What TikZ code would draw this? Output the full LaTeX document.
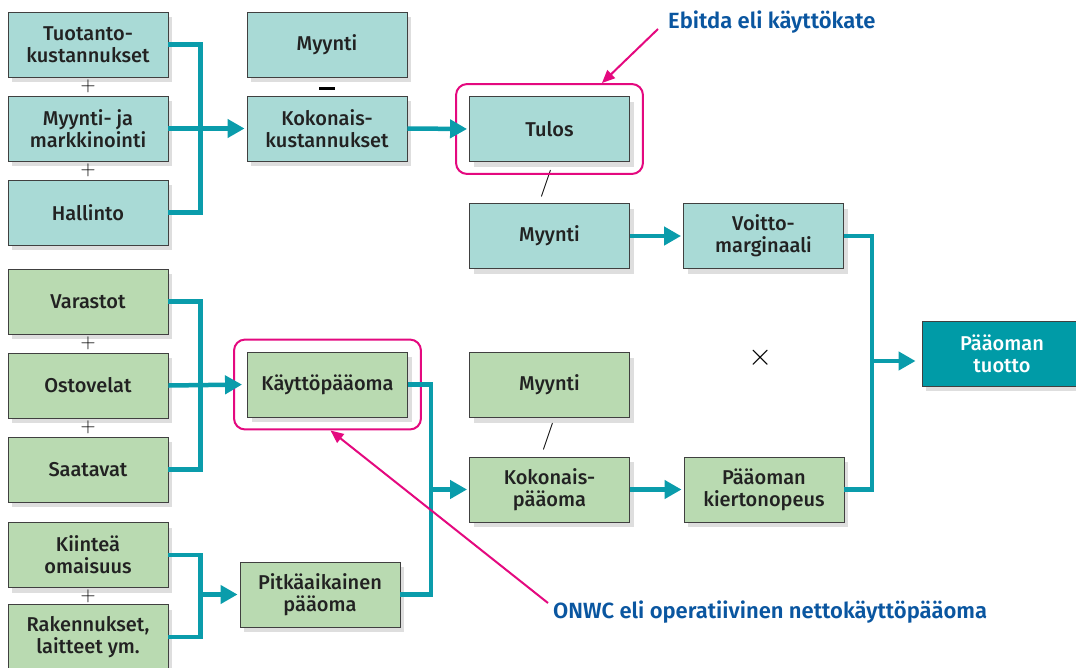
\documentclass[tikz,border=0pt]{standalone}
\usepackage{fontspec}
\setmainfont{Fira Sans}[UprightFont={* Medium},BoldFont={* SemiBold}]
\usetikzlibrary{arrows.meta,shadows,fit,calc}
\definecolor{tealbox}{HTML}{A9DAD6}
\definecolor{greenbox}{HTML}{B9DAB1}
\definecolor{conncol}{HTML}{0A9CAB}
\definecolor{tuottocol}{HTML}{009BA7}
\definecolor{pinkcol}{HTML}{E4097F}
\definecolor{bluetext}{HTML}{0A56A0}
\definecolor{textcol}{HTML}{222222}
\tikzset{
  box/.style={draw=black!75, line width=0.9pt, minimum width=160pt, minimum height=65pt,
    inner sep=0pt, align=center, text=textcol,
    font=\fontsize{20}{22}\selectfont,
    drop shadow={shadow xshift=4pt, shadow yshift=-5pt, fill=black, opacity=0.13}},
  tbox/.style={box, fill=tealbox},
  gbox/.style={box, fill=greenbox},
  conn/.style={draw=conncol, line width=4.5pt},
  arr/.style={conn, -{Triangle[length=17pt,width=18pt]}, shorten >=2pt},
  pinkframe/.style={draw=pinkcol, line width=2pt, rounded corners=11pt, inner xsep=13pt, inner ysep=12pt},
  pinkarr/.style={draw=pinkcol, line width=2pt, -{Triangle[length=13pt,width=11pt]}},
  op/.style={inner sep=0pt, text=black, font=\fontsize{22}{22}\selectfont},
  lab/.style={inner sep=0pt, text=bluetext, font=\fontsize{22}{24}\selectfont\bfseries}
}
\begin{document}
\begin{tikzpicture}[x=1pt,y=-1pt]
\useasboundingbox (0,0) rectangle (1076,667);
% top section (teal)
\node[tbox] (tuot) at (88,44.5) {Tuotanto-\\kustannukset};
\node[tbox] (mj) at (88,128.5) {Myynti- ja\\markkinointi};
\node[tbox] (hal) at (88,212.5) {Hallinto};
\node[tbox] (my1) at (327,44.5) {Myynti};
\node[tbox] (kok) at (327,128.5) {Kokonais-\\kustannukset};
\node[tbox] (tulos) at (549.5,129) {Tulos};
\node[tbox] (my2) at (549.5,236) {Myynti};
\node[tbox] (voit) at (763.5,236) {Voitto-\\marginaali};
% bottom section (green)
\node[gbox] (var) at (88,301.5) {Varastot};
\node[gbox] (ost) at (88,385.5) {Ostovelat};
\node[gbox] (saa) at (88,469.5) {Saatavat};
\node[gbox] (kii) at (88,555) {Kiinteä\\omaisuus};
\node[gbox] (rak) at (88,637) {Rakennukset,\\laitteet ym.};
\node[gbox] (kay) at (327.5,384.5) {Käyttöpääoma};
\node[gbox] (pit) at (320,594.5) {Pitkäaikainen\\pääoma};
\node[gbox] (my3) at (549.5,385) {Myynti};
\node[gbox] (kokp) at (549.5,489.5) {Kokonais-\\pääoma};
\node[gbox] (kier) at (764,489.5) {Pääoman\\kiertonopeus};
\node[box, fill=tuottocol, text=white] (tuotto) at (1002,353.5) {Pääoman\\tuotto};
% operators
\node[op] (p1) at (88,86) {$+$};
\node[op] (p2) at (88,170) {$+$};
\node[op] (p3) at (88,343) {$+$};
\node[op] (p4) at (88,427) {$+$};
\node[op] (p5) at (88,596) {$+$};
\node[op] (m1) at (327,88.5) {\rule{16pt}{2.6pt}};
\node[op] (s1) at (546,184) {\scalebox{1.3}{$/$}};
\node[op] (s2) at (548,437) {\scalebox{1.3}{$/$}};
\node[op] (x1) at (761,358) {\scalebox{1.5}{$\times$}};
% pink frames
\node[pinkframe, fit=(tulos)] (pk1) {};
\node[pinkframe, fit=(kay)] (pk2) {};
% junction coordinates
\coordinate (j3) at (200,594.5);
\coordinate (j2) at (430,489.5);
\coordinate (j4) at (872,361);
% connectors
\draw[conn] (tuot.east) -- ++(32,0) |- (hal.east);
\draw[arr] (mj.east) -- (kok.west);
\draw[arr] (kok.east) -- (tulos.west);
\draw[arr] (my2.east) -- (voit.west);
\draw[conn] (var.east) -- ++(32,0) |- (saa.east);
\draw[arr, shorten >=5pt] (ost.east) -- (kay.west);
\draw[conn] (kii.east) -- ++(32,0) |- (rak.east);
\draw[arr] (j3) -- (pit.west);
\draw[conn] (kay.east) -- ++(23,0) |- (pit.east);
\draw[arr] (j2) -- (kokp.west);
\draw[arr] (kokp.east) -- (kier.west);
\draw[conn] (voit.east) -- ++(28,0) |- (kier.east);
\draw[arr, shorten >=6pt] (j4) -- (j4 -| tuotto.west);
% labels
\node[lab, anchor=west] (ebitda) at (668,22) {Ebitda eli käyttökate};
\node[lab, anchor=west] (onwc) at (553,612) {ONWC eli operatiivinen nettokäyttöpääoma};
\draw[pinkarr] ([xshift=-10pt,yshift=-7pt]ebitda.west) -- ([xshift=-42pt]pk1.north east);
\draw[pinkarr] ([xshift=-5pt,yshift=9pt]onwc.west) -- ([xshift=3pt]pk2.south);
\end{tikzpicture}
\end{document}
